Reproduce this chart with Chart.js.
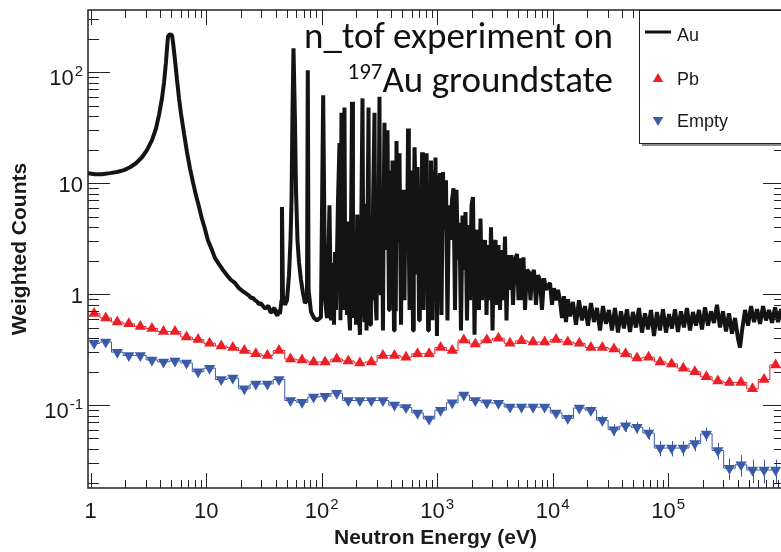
<!doctype html>
<html lang="en">
<head>
<meta charset="utf-8">
<title>n_tof experiment on 197Au groundstate</title>
<script src="https://cdn.jsdelivr.net/npm/chart.js"></script>
<style>
  html, body { margin: 0; padding: 0; background: #fff; overflow: hidden; }
  #wrap { position: relative; width: 800px; height: 552px; }
  #note {
    position: absolute; right: 187px; top: 14px;
    font-family: Carlito, Calibri, Lato, sans-serif; font-size: 37px; line-height: 44px;
    text-align: right; color: #111; white-space: nowrap;
  }
  #note sup { font-size: 0.62em; line-height: 0; vertical-align: 0.55em; }
</style>
</head>
<body>
<div id="wrap">
  <canvas id="chart" width="800" height="552"></canvas>
  <div id="note">n_tof experiment on<br><sup>197</sup>Au groundstate</div>
</div>
<script>
// Au sample, [energy eV, weighted counts]
const auThermal = [
  [0.948, 12.3], [1.089, 12.0], [1.253, 12.0], [1.469, 12.3], [1.690, 12.6], [1.942, 13.1],
  [2.188, 13.9], [2.466, 15.1], [2.780, 17.1], [3.071, 19.8], [3.395, 24.4], [3.675, 31],
  [3.902, 41], [4.142, 58], [4.311, 80], [4.487, 123], [4.578, 164], [4.670, 210],
  [4.862, 220], [5.060, 214], [5.162, 186], [5.372, 128], [5.592, 85], [5.820, 58],
  [6.058, 42], [6.428, 28], [6.820, 19], [7.237, 13.6], [7.678, 10.2], [8.147, 7.8],
  [8.644, 6.2], [9.172, 4.8], [9.732, 3.9], [10.33, 3.07], [11.23, 2.49], [11.92, 2.11],
  [12.90, 1.86], [13.97, 1.65], [15.13, 1.48], [16.39, 1.34], [17.75, 1.26], [19.22, 1.13],
  [20.82, 1.06], [22.55, 1.0], [23.5, 0.97], [24.42, 0.92], [25.4, 0.93], [26.45, 0.88],
  [27.5, 0.86], [28.65, 0.81], [29.8, 0.83], [31.03, 0.78], [32.3, 0.74], [33.6, 0.76],
  [34.6, 0.79], [35.7, 0.70], [36.8, 0.68], [37.9, 0.73], [39.0, 0.75], [40.2, 0.67],
  [41.4, 0.64], [42.7, 0.72]
];
const auResonances = [
  [43.5, 0.66], [44.9, 0.88], [45.3, 6.1], [46.2, 0.98], [48.1, 0.80], [50.1, 0.88],
  [52.1, 1.48], [53.7, 3.07], [54.8, 7.0], [55.9, 45], [57.0, 164], [58.7, 37],
  [59.9, 8.7], [61.7, 3.07], [63.6, 1.94], [66.2, 1.34], [68.9, 1.02], [71.7, 0.83],
  [74.6, 0.88], [75.8, 104], [77.0, 1.09], [80.8, 0.69], [85.7, 0.61], [91.0, 0.58],
  [98.5, 0.62], [103, 62], [107, 0.88], [111.1, 0.61], [116.8, 6.3], [120.4, 0.58],
  [124, 1.9], [127.8, 0.53], [130.5, 2.4], [133.0, 0.72], [138.4, 7.0], [142.6, 23],
  [145.5, 0.58], [148.3, 43], [152.8, 0.72], [157.5, 48], [160, 0.9], [162.3, 3.2],
  [165.5, 0.65], [169.0, 4.5], [172, 0.7], [175.8, 0.47], [179, 2.8], [183.0, 54],
  [186.5, 0.8], [190.4, 0.61], [194, 3.6], [198.2, 0.53], [203, 5.2], [208.3, 1.42],
  [211, 0.6], [214.6, 0.43], [220, 4.1], [225.6, 58], [230, 0.9], [234.8, 0.56],
  [239, 6.5], [244.4, 0.47], [249, 3.4], [254.4, 48], [258, 0.7], [262, 0.53],
  [267, 4.8], [272.6, 0.88], [279, 7.5], [286.6, 43], [292, 0.9], [298.4, 0.58],
  [304, 5.5], [310, 2.2], [316.4, 60], [321, 1.2], [326, 0.98], [332, 8],
  [339.3, 0.47], [344, 6], [349.6, 35], [355, 3], [360.3, 16], [366, 2.5],
  [371.3, 30], [377, 4], [382.6, 0.72], [388, 9], [394.3, 13], [400, 3.5],
  [405, 0.8], [410.3, 16], [416, 3], [422.8, 0.47], [428, 10], [433, 2],
  [438, 0.7], [444.4, 24], [450, 6], [457.9, 3.07], [465, 11], [471.9, 18.6],
  [479, 2.5], [486.3, 0.53], [496, 5], [506.2, 8.7], [514, 3.5], [521.6, 0.88],
  [529, 6], [537.5, 7], [548, 2.5], [559.4, 31], [568, 3], [576.4, 0.72],
  [585, 4.5], [593.9, 13], [606, 2.8], [617.9, 0.47], [627, 6], [636.8, 21],
  [656.2, 4.65], [666, 1.5], [676.2, 14], [686, 3.2], [696.8, 0.58], [707, 4],
  [718.1, 8.7], [729, 2.6], [740, 19], [751, 5], [762.6, 0.72], [774, 3],
  [785.8, 5.7], [797, 2.2], [809.8, 18.6], [822, 4], [834.5, 0.47], [847, 3.5],
  [860, 7], [871, 1.8], [883, 16], [897, 3.6], [910.5, 0.58], [924, 4],
  [938, 13], [952, 5], [966.6, 17], [981, 2.5], [995.4, 0.42], [1026, 8.7],
  [1057, 12.3], [1089, 0.65], [1122, 12.6], [1156, 3.8], [1191, 10.6], [1227, 0.58],
  [1265, 6.3], [1303, 3.07], [1343, 7], [1384, 9], [1426, 0.72], [1469, 8.7],
  [1514, 2.03], [1560, 4.4], [1607, 0.47], [1656, 5.1], [1706, 1.65], [1758, 5.5],
  [1811, 0.58], [1866, 4.2], [1923, 0.88], [1982, 6.3], [2042, 7.5], [2104, 0.43],
  [2168, 3.07], [2234, 3.8], [2301, 0.72], [2371, 4.8], [2443, 0.88], [2518, 2.49],
  [2594, 3.07], [2673, 0.65], [2754, 2.77], [2838, 0.88], [2924, 4.0], [3013, 0.47],
  [3104, 2.77], [3199, 3.07], [3296, 0.80], [3396, 2.77], [3499, 0.72], [3605, 2.49],
  [3715, 0.88], [3864, 3.3], [3981, 0.58], [4102, 2.25], [4267, 1.09], [4397, 2.25],
  [4530, 0.8], [4716, 2.03], [4909, 2.3], [5058, 0.88], [5212, 2.1], [5421, 0.88],
  [5586, 2.15], [5756, 0.72], [5987, 1.65], [6232, 1.58], [6421, 0.88], [6616, 1.48],
  [6887, 1.65], [7164, 0.8], [7460, 1.48], [7762, 1.34], [8072, 0.72], [8414, 1.39],
  [8750, 1.09], [9099, 1.2], [9484, 1.26], [9862, 0.8], [10260, 1.13], [10690, 0.88],
  [11120, 1.09]
];
const auFast = [
  [11560, 0.88], [12030, 0.61], [12520, 0.96], [13020, 0.56], [13550, 0.90], [14110, 0.63],
  [14970, 0.85], [15890, 0.53], [16880, 0.88], [17910, 0.58], [19020, 0.78], [20200, 0.52],
  [21440, 0.83], [22770, 0.56], [24170, 0.75], [25660, 0.47], [27240, 0.78], [28920, 0.54],
  [30700, 0.72], [32590, 0.47], [34600, 0.75], [36730, 0.45], [39000, 0.70], [41400, 0.49],
  [43960, 0.73], [46670, 0.455], [49540, 0.69], [52600, 0.50], [55840, 0.75], [59280, 0.45],
  [62930, 0.67], [66820, 0.48], [70930, 0.72], [75300, 0.42], [79940, 0.69], [84870, 0.47],
  [90100, 0.73], [95650, 0.45], [101550, 0.66], [107800, 0.49], [114500, 0.73], [121500, 0.455],
  [129000, 0.70], [136900, 0.50], [145300, 0.75], [154400, 0.47], [163800, 0.69], [174000, 0.52],
  [184700, 0.72], [196100, 0.48], [208200, 0.76], [221000, 0.52], [234600, 0.70], [249100, 0.55],
  [264400, 0.80], [280700, 0.50], [298000, 0.70], [316400, 0.46], [335900, 0.67], [356600, 0.44],
  [378600, 0.61], [401900, 0.40], [418600, 0.33], [435600, 0.47], [462500, 0.72], [491000, 0.52],
  [521300, 0.78], [553400, 0.56], [587500, 0.73], [623700, 0.54], [662200, 0.78], [703000, 0.58],
  [746300, 0.72], [792300, 0.55], [841100, 0.76], [893000, 0.56], [948000, 0.73], [1026000, 0.61]
];

// Pb and Empty runs share the same log bins (10 per decade)
const binEnergy = [
  1.07, 1.35, 1.70, 2.14, 2.69, 3.39, 4.27, 5.37, 6.76, 8.51,
  10.7, 13.5, 17.0, 21.4, 26.9, 33.9, 42.7, 53.7, 67.6, 85.1,
  107, 135, 170, 214, 269, 339, 427, 537, 676, 851,
  1070, 1350, 1700, 2140, 2690, 3390, 4270, 5370, 6760, 8510,
  10700, 13500, 17000, 21400, 26900, 33900, 42700, 53700, 67600, 85100,
  107000, 135000, 170000, 214000, 269000, 339000, 427000, 537000, 676000, 851000
];
const pbCounts = [
  0.67, 0.61, 0.56, 0.54, 0.51, 0.49, 0.46, 0.46, 0.41, 0.39,
  0.36, 0.34, 0.33, 0.31, 0.29, 0.28, 0.31, 0.26, 0.255, 0.245,
  0.245, 0.26, 0.25, 0.24, 0.245, 0.28, 0.28, 0.27, 0.29, 0.29,
  0.33, 0.31, 0.385, 0.355, 0.385, 0.40, 0.36, 0.38, 0.37, 0.37,
  0.39, 0.37, 0.36, 0.33, 0.33, 0.32, 0.29, 0.265, 0.27, 0.245,
  0.235, 0.215, 0.20, 0.18, 0.165, 0.16, 0.16, 0.14, 0.17, 0.23
];
const emptyCounts = [
  0.36, 0.37, 0.30, 0.28, 0.28, 0.255, 0.245, 0.25, 0.24, 0.20,
  0.215, 0.17, 0.175, 0.14, 0.155, 0.155, 0.17, 0.11, 0.106, 0.118,
  0.12, 0.128, 0.11, 0.11, 0.11, 0.11, 0.10, 0.095, 0.085, 0.075,
  0.09, 0.105, 0.123, 0.11, 0.105, 0.104, 0.096, 0.096, 0.096, 0.096,
  0.085, 0.076, 0.094, 0.09, 0.073, 0.06, 0.065, 0.063, 0.056, 0.041,
  0.041, 0.041, 0.045, 0.055, 0.039, 0.027, 0.029, 0.026, 0.026, 0.026
];
// relative error of the Empty run
const emptyErr = [
  0.04, 0.04, 0.04, 0.04, 0.04, 0.04, 0.04, 0.04, 0.04, 0.04,
  0.04, 0.04, 0.04, 0.04, 0.04, 0.04, 0.04, 0.05, 0.05, 0.05,
  0.05, 0.05, 0.05, 0.05, 0.05, 0.05, 0.05, 0.05, 0.05, 0.05,
  0.05, 0.05, 0.05, 0.05, 0.05, 0.05, 0.05, 0.05, 0.05, 0.05,
  0.06, 0.08, 0.07, 0.08, 0.10, 0.12, 0.12, 0.12, 0.13, 0.16,
  0.16, 0.16, 0.15, 0.14, 0.17, 0.22, 0.22, 0.24, 0.24, 0.24
];

const xTickValues = [1, 10, 100, 1000, 10000, 100000];
const xTickBase = ['1', '10', '10', '10', '10', '10'];
const xTickExp = ['', '', '2', '3', '4', '5'];
const yTickValues = [0.1, 1, 10, 100];
const yTickBase = ['10', '1', '10', '10'];
const yTickExp = ['-1', '', '', '2'];

const RED = '#ec1f27';
const BLUE = '#3b5aa8';
const FONT = '"Liberation Sans", Arial, Helvetica, sans-serif';

function toPoints(pairs) { return pairs.map(p => ({ x: p[0], y: p[1] })); }
function binPoints(vals) { return binEnergy.map((e, i) => ({ x: e, y: vals[i] })); }

function drawLabel(ctx, base, exp, px, baseline, align) {
  ctx.font = '22px ' + FONT;
  const wb = ctx.measureText(base).width;
  ctx.font = '15px ' + FONT;
  const we = exp ? ctx.measureText(exp).width + 1 : 0;
  const left = align === 'center' ? px - (wb + we) / 2 : px - (wb + we);
  ctx.textAlign = 'left';
  ctx.textBaseline = 'alphabetic';
  ctx.font = '22px ' + FONT;
  ctx.fillText(base, left, baseline);
  if (exp) {
    ctx.font = '15px ' + FONT;
    ctx.fillText(exp, left + wb + 1, baseline - 9);
  }
}

function seg(ctx, x1, y1, x2, y2) {
  ctx.beginPath(); ctx.moveTo(x1, y1); ctx.lineTo(x2, y2); ctx.stroke();
}

const rootFrame = {
  id: 'rootFrame',
  beforeDatasetsDraw(chart) {
    // error bars of the Empty run
    const { ctx, chartArea: a, scales: { x, y } } = chart;
    ctx.save();
    ctx.beginPath(); ctx.rect(a.left, a.top, a.right - a.left, a.bottom - a.top); ctx.clip();
    ctx.strokeStyle = BLUE; ctx.lineWidth = 1;
    binEnergy.forEach((e, i) => {
      const px = Math.round(x.getPixelForValue(e)) + 0.5;
      const v = emptyCounts[i], d = emptyErr[i];
      seg(ctx, px, y.getPixelForValue(v * (1 + d)), px, y.getPixelForValue(v * (1 - d)));
    });
    ctx.restore();
  },
  afterDraw(chart) {
    const { ctx, chartArea: a, scales: { x, y } } = chart;
    ctx.save();
    ctx.strokeStyle = '#222';
    ctx.fillStyle = '#1a1a1a';
    ctx.lineWidth = 1;

    // x ticks, bottom and top, pointing inwards
    for (let d = 0; d <= 6; d++) {
      for (let m = 1; m <= 9; m++) {
        const v = m * Math.pow(10, d);
        if (v < x.min || v > x.max) continue;
        const px = Math.round(x.getPixelForValue(v)) + 0.5;
        const len = m === 1 ? 15 : 8;
        seg(ctx, px, a.bottom, px, a.bottom - len);
        seg(ctx, px, a.top, px, a.top + len);
      }
    }
    // y ticks, left and right
    for (let d = -2; d <= 2; d++) {
      for (let m = 1; m <= 9; m++) {
        const v = m * Math.pow(10, d);
        if (v < y.min || v > y.max) continue;
        const py = Math.round(y.getPixelForValue(v)) + 0.5;
        const len = m === 1 ? 22 : 11;
        seg(ctx, a.left, py, a.left + len, py);
        seg(ctx, a.right, py, a.right - len, py);
      }
    }
    // frame
    ctx.lineWidth = 1.5;
    ctx.strokeRect(a.left, a.top, a.right - a.left, a.bottom - a.top);

    // tick labels
    xTickValues.forEach((v, i) => {
      drawLabel(ctx, xTickBase[i], xTickExp[i], x.getPixelForValue(v), a.bottom + 30, 'center');
    });
    yTickValues.forEach((v, i) => {
      const py = y.getPixelForValue(v);
      drawLabel(ctx, yTickBase[i], yTickExp[i], a.left - 5, py + (yTickExp[i] ? 13 : 9), 'right');
    });

    // axis titles
    ctx.font = 'bold 21px ' + FONT;
    ctx.textAlign = 'center';
    ctx.textBaseline = 'alphabetic';
    ctx.fillText('Neutron Energy (eV)', (a.left + a.right) / 2 - 1, 544);
    ctx.save();
    ctx.translate(26, (a.top + a.bottom) / 2);
    ctx.rotate(-Math.PI / 2);
    ctx.fillText('Weighted Counts', 0, 0);
    ctx.restore();

    // legend box with shadow
    const lx = 639, ly = a.top, lw = 170, lh = 133;
    ctx.fillStyle = '#8a8a8a';
    ctx.fillRect(lx + 3, ly + lh, lw, 3);
    ctx.fillStyle = '#fff';
    ctx.fillRect(lx, ly, lw, lh);
    ctx.lineWidth = 1;
    ctx.strokeStyle = '#222';
    ctx.strokeRect(lx + 0.5, ly + 0.5, lw, lh);

    ctx.font = '18px ' + FONT;
    ctx.textAlign = 'left';
    ctx.fillStyle = '#1a1a1a';
    ctx.lineWidth = 3;
    ctx.strokeStyle = '#111';
    seg(ctx, 645, 32, 671, 32);
    ctx.fillText('Au', 677, 41);

    ctx.fillStyle = RED;
    Chart.helpers.drawPoint(ctx, { pointStyle: 'triangle', radius: 6, rotation: 0, borderWidth: 0 }, 658, 79);
    ctx.fillStyle = BLUE;
    Chart.helpers.drawPoint(ctx, { pointStyle: 'triangle', radius: 6, rotation: 180, borderWidth: 0 }, 658, 120);
    ctx.fillStyle = '#1a1a1a';
    ctx.fillText('Pb', 677, 85);
    ctx.fillText('Empty', 677, 127);
    ctx.restore();
  }
};

new Chart(document.getElementById('chart'), {
  type: 'line',
  data: {
    datasets: [
      {
        label: 'Empty',
        data: binPoints(emptyCounts),
        borderColor: BLUE, backgroundColor: BLUE, borderWidth: 1,
        stepped: 'middle',
        pointStyle: 'triangle', pointRotation: 180, pointRadius: 6.5, pointBorderWidth: 0,
        order: 3
      },
      {
        label: 'Pb',
        data: binPoints(pbCounts),
        borderColor: RED, backgroundColor: RED, borderWidth: 1,
        stepped: 'middle',
        pointStyle: 'triangle', pointRadius: 6.5, pointBorderWidth: 0,
        order: 2
      },
      {
        label: 'Au',
        data: toPoints(auThermal.concat(auResonances, auFast)),
        borderColor: '#141414', borderWidth: 4, borderJoinStyle: 'bevel',
        pointRadius: 0, tension: 0,
        order: 1
      }
    ]
  },
  options: {
    responsive: false,
    animation: false,
    devicePixelRatio: 1,
    events: [],
    layout: { padding: { left: 88, top: 10, right: 15, bottom: 64 }, autoPadding: false },
    scales: {
      x: { type: 'logarithmic', min: 0.948, max: 1026000, display: false },
      y: { type: 'logarithmic', min: 0.0179, max: 363, display: false }
    },
    plugins: { legend: { display: false }, tooltip: { enabled: false } }
  },
  plugins: [rootFrame]
});
</script>
</body>
</html>
